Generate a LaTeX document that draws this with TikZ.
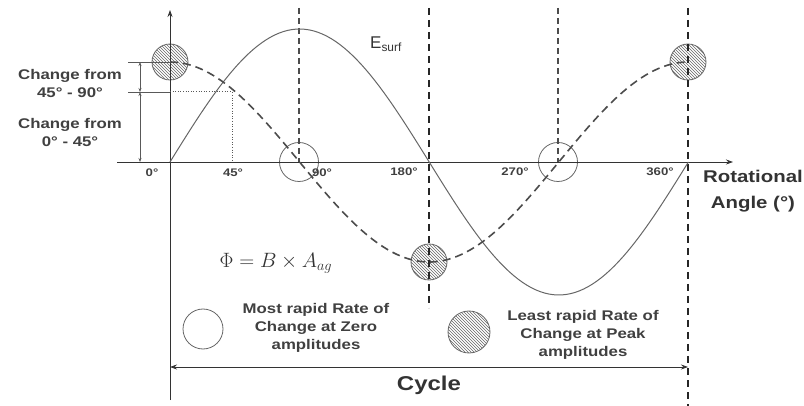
\documentclass[tikz,border=0pt]{standalone}
\usepackage{fontspec}
\setmainfont{Liberation Sans}
\newfontfamily\lblfont[FakeStretch=1.2]{Liberation Sans}
\usetikzlibrary{arrows.meta,positioning,calc,patterns}

\begin{document}
\begin{tikzpicture}[x=1pt,y=-1pt,
    >={Stealth[length=7pt,width=5pt]},
    axis/.style={draw=black!80, line width=0.8pt},
    guide/.style={draw=black!65, line width=0.6pt},
    esurf/.style={draw=black!60, line width=1pt},
    flux/.style={draw=black!70, line width=1.6pt, dash pattern=on 8pt off 5pt},
    phaseline/.style={draw=black!85, line width=1.6pt, dash pattern=on 7pt off 5pt},
    quarterline/.style={draw=black!70, line width=1.1pt, dash pattern=on 6pt off 4pt},
    zeroc/.style={circle, draw=black!60, line width=0.8pt, minimum size=39pt, inner sep=0pt},
    peakc/.style={circle, draw=black!60, line width=0.8pt, minimum size=36pt, inner sep=0pt,
        pattern=north west lines, pattern color=black!60},
    tick/.style={font=\lblfont\bfseries\fontsize{11}{13}\selectfont, text=black!75, inner sep=1pt},
    lab/.style={font=\lblfont\bfseries\fontsize{14}{18}\selectfont, align=center, text=black!75, inner sep=1pt},
    big/.style={font=\lblfont\bfseries\fontsize{17}{26}\selectfont, align=center, text=black!80, inner sep=0pt}]
  \useasboundingbox (0,0) rectangle (804,406);

  % circles at zero crossings and peaks of the flux
  \node[peakc] (p0) at (170,62) {};
  \node[zeroc] (z90) at (299,162) {};
  \node[peakc] (p180) at (429,262) {};
  \node[zeroc] (z270) at (558,162) {};
  \node[peakc] (p360) at (688,62) {};

  % axes
  \coordinate (ybot) at (170,400);
  \coordinate (ytop) at (170,10);
  \coordinate (xleft) at (117,162);
  \coordinate (xright) at (733,162);
  \draw[axis,->] (ybot) -- (ytop);
  \draw[axis,->] (xleft) -- (xright);

  % phase lines
  \coordinate (t90) at (299,8);
  \coordinate (t180) at (429,8);
  \coordinate (b180) at (429,308);
  \coordinate (t270) at (558,8);
  \coordinate (t360) at (688,8);
  \coordinate (b360) at (688,406);
  \draw[quarterline] (t90) -- (z90.center);
  \draw[quarterline] (t270) -- (z270.center);
  \draw[phaseline] (t180) -- (b180);
  \draw[phaseline] (t360) -- (b360);

  % curves
  \draw[esurf] plot[domain=0:360, samples=120] ({170+1.44*\x},{162-133*sin(\x)});
  \draw[flux] plot[domain=0:360, samples=120] ({170+1.44*\x},{162-100*cos(\x)});
  \node[font=\fontsize{17}{19}\selectfont, text=black!80] (elab) at (386,44) {E\textsubscript{surf}};

  % change from 0-45 and 45-90
  \coordinate (h62) at (128,62);
  \coordinate (h92) at (128,92);
  \coordinate (y92) at (170,92);
  \coordinate (d45) at (232,92);
  \coordinate (x45) at (232,162);
  \draw[guide] (h62) -- (p0.center);
  \draw[guide] (h92) -- (y92);
  \draw[guide, dotted, line width=1pt] (y92) -- (d45) -- (x45);
  \draw[guide, {Stealth[length=4pt,width=3pt]}-{Stealth[length=4pt,width=3pt]}] (140,62) -- (140,92);
  \draw[guide, {Stealth[length=4pt,width=3pt]}-{Stealth[length=4pt,width=3pt]}] (140,92) -- (140,162);
  \node[lab] (ch1) at (70,83) {Change from\\45° - 90°};
  \node[lab] (ch2) at (70,132) {Change from\\0° - 45°};

  % tick labels
  \node[tick] (l0) at (152,173) {0°};
  \node[tick] (l45) at (233,173) {45°};
  \node[tick] (l90) at (322,173) {90°};
  \node[tick] (l180) at (404,172) {180°};
  \node[tick] (l270) at (515,172) {270°};
  \node[tick] (l360) at (660,172) {360°};
  \node[big, anchor=north east] (axlab) at (803,170) {Rotational\\Angle (°)};

  \node[font=\fontsize{20}{22}\selectfont, text=black!80] (fluxeq) at (276,263) {$\Phi = B\times A_{ag}$};

  % legend
  \node[zeroc, minimum size=40pt] (keyzero) at (203,329) {};
  \node[lab] (keyzerotxt) at (316,328) {Most rapid Rate of\\Change at Zero\\amplitudes};
  \node[peakc, minimum size=42pt] (keypeak) at (469,332) {};
  \node[lab] (keypeaktxt) at (583,335) {Least rapid Rate of\\Change at Peak\\amplitudes};

  % one cycle
  \coordinate (cycs) at (170,367);
  \coordinate (cyce) at (688,367);
  \draw[axis,<->] (cycs) -- (cyce);
  \node[big, font=\lblfont\bfseries\fontsize{20}{24}\selectfont] (cyc) at (429,385) {Cycle};
\end{tikzpicture}
\end{document}
